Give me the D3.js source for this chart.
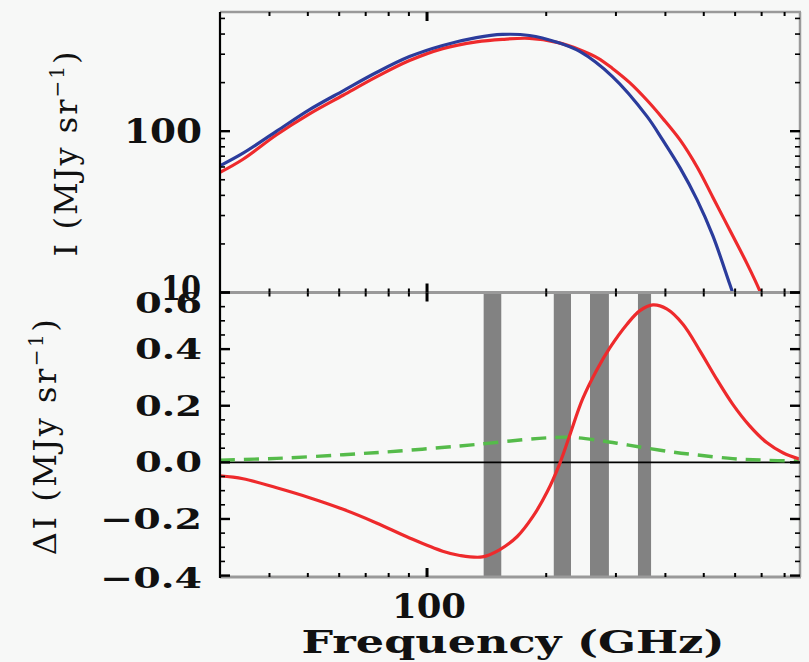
<!DOCTYPE html>
<html>
<head>
<meta charset="utf-8">
<script src="https://cdn.jsdelivr.net/npm/d3@7"></script>
<style>
  html, body { margin: 0; padding: 0; background: #f7f8f7; }
  svg { display: block; }
  text { font-family: "DejaVu Serif", "Liberation Serif", serif; fill: #111; }
</style>
</head>
<body>
<svg id="chart" width="809" height="662"></svg>
<script>
// ---------------- data ----------------
// Top panel: intensity spectra (MJy/sr) vs frequency (GHz)
const blueFreq = [30, 34.3, 41.7, 50.5, 61.4, 74.5, 90.3, 109.5, 133.3, 155, 181.5, 213, 243, 294, 359, 394, 436, 481, 527, 582, 610];
const blueI    = [61, 73, 100, 136, 178, 231, 290, 340, 380, 398, 392, 356, 312, 218, 124, 88, 59, 37.5, 22.5, 11.2, 8];
const redFreq  = [30, 34.3, 41.7, 50.5, 61.4, 74.5, 90.3, 109.5, 133.3, 155, 181.5, 213, 243, 270, 294, 325, 359, 394, 436, 481, 527, 582, 643, 693, 720];
const redI     = [55.5, 67, 95, 128, 167, 217, 274, 325, 358, 371, 376, 355, 320, 284, 245, 200, 156, 120, 88, 60, 39, 24.3, 15.1, 10.2, 8];

// Bottom panel: difference spectra (MJy/sr)
const dFreq = [30, 34.3, 41.7, 50.5, 61.4, 74.5, 90.3, 109.5, 121, 138, 152, 169, 185, 201, 216, 229, 247, 269, 290, 320, 345, 372, 403, 443, 489, 539, 592, 653, 721, 792, 875];
const dI    = [-0.048, -0.058, -0.090, -0.125, -0.166, -0.214, -0.267, -0.314, -0.329, -0.334, -0.310, -0.262, -0.192, -0.105, -0.007, 0.093, 0.223, 0.329, 0.406, 0.488, 0.536, 0.556, 0.542, 0.488, 0.394, 0.294, 0.205, 0.129, 0.070, 0.034, 0.011];
const gFreq = [30, 41.7, 61.4, 85, 121, 144, 175, 204, 229, 273, 310, 352, 420, 489, 592, 700, 875];
const gI    = [0.008, 0.014, 0.027, 0.040, 0.058, 0.068, 0.080, 0.087, 0.089, 0.077, 0.065, 0.052, 0.036, 0.025, 0.013, 0.008, 0.004];

// Frequency bands (GHz) shown as gray bars
const bandLo = [139, 209, 258, 341];
const bandHi = [154, 231, 288, 368];

// Ticks
const xMajor = [100];
const xMinor = [40, 50, 60, 70, 80, 90, 200, 300, 400, 500, 600, 700, 800];
const yTopMajor = [10, 100];
const yTopMinor = [20, 30, 40, 50, 60, 70, 80, 90, 200, 300, 400, 500];
const yBotMajor = [-0.4, -0.2, 0.0, 0.2, 0.4, 0.6];
const yBotLabels = ["\u22120.4", "\u22120.2", "0.0", "0.2", "0.4", "0.6"];
const yBotMinor = [-0.35, -0.3, -0.25, -0.15, -0.1, -0.05, 0.05, 0.1, 0.15, 0.25, 0.3, 0.35, 0.45, 0.5, 0.55];

// ---------------- layout ----------------
const L = 220, R = 800, T1 = 12, B1 = 292.5, B2 = 577;
const svg = d3.select("#chart");

const x = d3.scaleLog().domain([30, 875]).range([L, R]);
const yTop = d3.scaleLog().domain([10, 548]).range([B1, T1]);
const yBot = d3.scaleLinear().domain([-0.405, 0.6]).range([B2, B1]);

// clips
const defs = svg.append("defs");
defs.append("clipPath").attr("id", "clipTop").append("rect")
  .attr("x", L).attr("y", T1).attr("width", R - L).attr("height", B1 - T1);
defs.append("clipPath").attr("id", "clipBot").append("rect")
  .attr("x", L).attr("y", B1).attr("width", R - L).attr("height", B2 - B1);

const smooth = d3.curveCatmullRom.alpha(0.5);

// ---------------- bottom panel ----------------
const gb = svg.append("g").attr("clip-path", "url(#clipBot)");
gb.selectAll("rect.band").data(bandLo).join("rect")
  .attr("class", "band")
  .attr("x", (d) => x(d))
  .attr("width", (d, i) => x(bandHi[i]) - x(d))
  .attr("y", B1).attr("height", B2 - B1)
  .attr("fill", "#828282");

gb.append("line")
  .attr("x1", L).attr("x2", R).attr("y1", yBot(0)).attr("y2", yBot(0))
  .attr("stroke", "#000").attr("stroke-width", 1.6);

const lineBot = d3.line().curve(smooth);
gb.append("path")
  .attr("d", lineBot(gFreq.map((f, i) => [x(f), yBot(gI[i])])))
  .attr("fill", "none").attr("stroke", "#55bb4a").attr("stroke-width", 3.4)
  .attr("stroke-dasharray", "15,9");
gb.append("path")
  .attr("d", lineBot(dFreq.map((f, i) => [x(f), yBot(dI[i])])))
  .attr("fill", "none").attr("stroke", "#ee2a2c").attr("stroke-width", 3.2);

// ---------------- top panel ----------------
const gt = svg.append("g").attr("clip-path", "url(#clipTop)");
const lineTop = d3.line().curve(smooth);
gt.append("path")
  .attr("d", lineTop(redFreq.map((f, i) => [x(f), yTop(redI[i])])))
  .attr("fill", "none").attr("stroke", "#ee2a2c").attr("stroke-width", 3.2);
gt.append("path")
  .attr("d", lineTop(blueFreq.map((f, i) => [x(f), yTop(blueI[i])])))
  .attr("fill", "none").attr("stroke", "#2b3c9c").attr("stroke-width", 3.2);

// ---------------- frames ----------------
const frame = svg.append("g");
const gray = "#9a9a9a";
frame.append("line").attr("x1", L).attr("x2", R + 1).attr("y1", T1).attr("y2", T1).attr("stroke", gray).attr("stroke-width", 2.5);
frame.append("line").attr("x1", L).attr("x2", R + 1).attr("y1", B1).attr("y2", B1).attr("stroke", gray).attr("stroke-width", 3);
frame.append("line").attr("x1", L).attr("x2", R + 1).attr("y1", B2).attr("y2", B2).attr("stroke", gray).attr("stroke-width", 3);
frame.append("line").attr("x1", R).attr("x2", R).attr("y1", T1).attr("y2", B2).attr("stroke", gray).attr("stroke-width", 2.5);
frame.append("line").attr("x1", L).attr("x2", L).attr("y1", T1).attr("y2", B2 + 1).attr("stroke", "#000").attr("stroke-width", 2.2);

// ---------------- ticks ----------------
const tk = svg.append("g").attr("stroke", "#000");
function xTicks(yLine, dir) {
  xMinor.forEach((v) => tk.append("line").attr("x1", x(v)).attr("x2", x(v))
    .attr("y1", yLine).attr("y2", yLine + dir * 4).attr("stroke-width", 2));
  xMajor.forEach((v) => tk.append("line").attr("x1", x(v)).attr("x2", x(v))
    .attr("y1", yLine).attr("y2", yLine + dir * 9).attr("stroke-width", 3));
}
xTicks(T1, 1); xTicks(B1, -1); xTicks(B1, 1); xTicks(B2, -1);

function yTicks(scale, major, minor, xLine, dir) {
  minor.forEach((v) => tk.append("line").attr("y1", scale(v)).attr("y2", scale(v))
    .attr("x1", xLine).attr("x2", xLine + dir * 5).attr("stroke-width", 1.6));
  major.forEach((v) => tk.append("line").attr("y1", scale(v)).attr("y2", scale(v))
    .attr("x1", xLine).attr("x2", xLine + dir * 10).attr("stroke-width", 2.4));
}
yTicks(yTop, yTopMajor, yTopMinor, L, 1);
yTicks(yTop, yTopMajor, yTopMinor, R, -1);
yTicks(yBot, yBotMajor, yBotMinor, L, 1);
yTicks(yBot, yBotMajor, yBotMinor, R, -1);

// ---------------- labels ----------------
const lab = svg.append("g").attr("font-weight", "bold");
function fit(sel, len) {
  return sel.attr("textLength", len).attr("lengthAdjust", "spacingAndGlyphs");
}
// top y labels
fit(lab.append("text").attr("x", 202).attr("y", yTop(100) + 12).attr("text-anchor", "end")
  .attr("font-size", 34).text("100"), 78);
fit(lab.append("text").attr("x", 201).attr("y", yTop(10) + 7).attr("text-anchor", "end")
  .attr("font-size", 33).text("10"), 40);
// bottom y labels
yBotMajor.forEach((v, i) => {
  const s = yBotLabels[i];
  const len = s.length === 3 ? 67 : 102;
  const yc = v === 0.6 ? yBot(v) + 10 : yBot(v) + (v === -0.4 ? 2 : 0);
  fit(lab.append("text").attr("x", 202).attr("y", yc + 10).attr("text-anchor", "end")
    .attr("font-size", 28).text(s), len);
});
// x labels
fit(lab.append("text").attr("x", x(100) + 2).attr("y", 618).attr("text-anchor", "middle")
  .attr("font-size", 33).text("100"), 74);
fit(lab.append("text").attr("x", 513).attr("y", 653).attr("text-anchor", "middle")
  .attr("font-size", 31).text("Frequency (GHz)"), 423);

// rotated axis titles
const t1 = lab.append("text").attr("transform", "translate(77,153) rotate(-90)")
  .attr("text-anchor", "middle").attr("font-size", 32).attr("font-weight", "normal")
  .attr("letter-spacing", 2);
t1.append("tspan").text("I (MJy sr");
t1.append("tspan").attr("font-size", 20).attr("dy", -13).text("\u22121");
t1.append("tspan").attr("dy", 13).text(")");

const t2 = lab.append("text").attr("transform", "translate(56,436) rotate(-90)")
  .attr("text-anchor", "middle").attr("font-size", 32).attr("font-weight", "normal")
  .attr("letter-spacing", 2.5);
t2.append("tspan").text("\u0394I (MJy sr");
t2.append("tspan").attr("font-size", 20).attr("dy", -13).text("\u22121");
t2.append("tspan").attr("dy", 13).text(")");
</script>
</body>
</html>
